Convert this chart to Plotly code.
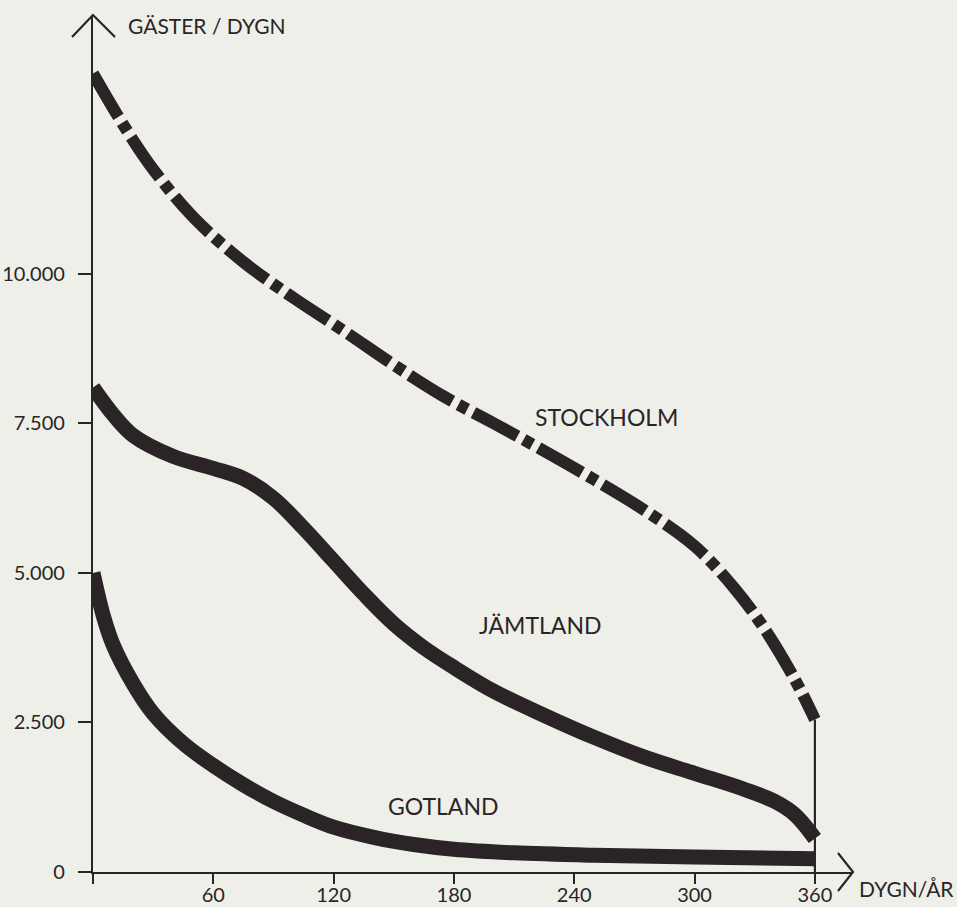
import plotly.graph_objects as go

# ---- data ----
STOCKHOLM_DAYS = [0, 15, 30, 50, 75, 100, 125, 150, 175, 200, 225, 250, 275, 300, 320, 335, 350, 360]
STOCKHOLM_GUESTS = [13350, 12500, 11750, 10950, 10200, 9600, 9050, 8480, 7950, 7500, 7040, 6560, 6050, 5450, 4740, 4060, 3220, 2550]

JAMTLAND_DAYS = [0, 10, 20, 40, 60, 75, 90, 105, 120, 135, 150, 165, 180, 200, 225, 250, 275, 300, 325, 340, 350, 360]
JAMTLAND_GUESTS = [8100, 7650, 7300, 6950, 6750, 6580, 6250, 5750, 5200, 4650, 4150, 3750, 3420, 3020, 2620, 2250, 1920, 1650, 1380, 1180, 960, 560]

GOTLAND_DAYS = [0, 5, 10, 20, 30, 45, 60, 75, 90, 105, 120, 140, 160, 180, 210, 250, 300, 360]
GOTLAND_GUESTS = [5000, 4300, 3800, 3150, 2650, 2150, 1780, 1460, 1180, 950, 750, 580, 460, 380, 320, 280, 250, 220]

X_TICKS = [0, 60, 120, 180, 240, 300, 360]
X_TICK_TEXT = ["", "60", "120", "180", "240", "300", "360"]
Y_TICKS = [0, 2500, 5000, 7500, 10000]
Y_TICK_TEXT = ["0", "2.500", "5.000", "7.500", "10.000"]

X_RANGE = [0, 379]
Y_RANGE = [0, 14330]

INK = "#2b2427"
PAPER = "#eeefe8"
FONT = "Lato"

W, H = 957, 907
ML, MR, MT, MB = 93, 104, 15, 35
PW, PH = W - ML - MR, H - MT - MB


def px_x(px):
    return (px - ML) / PW


def px_y(py):
    return (H - MB - py) / PH


fig = go.Figure()

fig.add_trace(go.Scatter(
    x=STOCKHOLM_DAYS, y=STOCKHOLM_GUESTS, mode="lines",
    line=dict(color=INK, width=12, shape="spline", smoothing=1.0, dash="50px,7px,10px,7px"),
    name="STOCKHOLM", hoverinfo="skip"))
fig.add_trace(go.Scatter(
    x=JAMTLAND_DAYS, y=JAMTLAND_GUESTS, mode="lines",
    line=dict(color=INK, width=15, shape="spline", smoothing=1.0),
    name="JÄMTLAND", hoverinfo="skip"))
fig.add_trace(go.Scatter(
    x=GOTLAND_DAYS, y=GOTLAND_GUESTS, mode="lines",
    line=dict(color=INK, width=15, shape="spline", smoothing=1.0),
    name="GOTLAND", hoverinfo="skip"))

shapes = [
    # vertical line at day 360 under the Stockholm curve end
    dict(type="line", xref="x", yref="y", x0=STOCKHOLM_DAYS[-1], x1=STOCKHOLM_DAYS[-1],
         y0=0, y1=STOCKHOLM_GUESTS[-1], line=dict(color=INK, width=2.2)),
    # y axis arrow head
    dict(type="path", xref="paper", yref="paper",
         path=f"M {px_x(72)},{px_y(37)} L {px_x(93)},{px_y(15)} L {px_x(115)},{px_y(37)}",
         line=dict(color=INK, width=2.2)),
    # x axis arrow head
    dict(type="path", xref="paper", yref="paper",
         path=f"M {px_x(838)},{px_y(853)} L {px_x(853)},{px_y(872)} L {px_x(838)},{px_y(891)}",
         line=dict(color=INK, width=2.2)),
]

annotations = [
    dict(text="GÄSTER / DYGN", xref="paper", yref="paper", x=px_x(126), y=px_y(25),
         xanchor="left", yanchor="middle", showarrow=False,
         font=dict(family=FONT, size=21, color=INK)),
    dict(text="DYGN/ÅR", xref="paper", yref="paper", x=px_x(857), y=px_y(889),
         xanchor="left", yanchor="middle", showarrow=False,
         font=dict(family=FONT, size=21, color=INK)),
    dict(text="STOCKHOLM", xref="x", yref="y", x=256, y=7610, showarrow=False,
         font=dict(family=FONT, size=23, color=INK)),
    dict(text="JÄMTLAND", xref="x", yref="y", x=223, y=4130, showarrow=False,
         font=dict(family=FONT, size=23, color=INK)),
    dict(text="GOTLAND", xref="x", yref="y", x=175, y=1100, showarrow=False,
         font=dict(family=FONT, size=23, color=INK)),
]

fig.update_layout(
    width=W, height=H,
    margin=dict(l=ML, r=MR, t=MT, b=MB, pad=0, autoexpand=False),
    paper_bgcolor=PAPER, plot_bgcolor=PAPER,
    showlegend=False,
    shapes=shapes, annotations=annotations,
    font=dict(family=FONT, color=INK),
)
fig.update_xaxes(
    range=X_RANGE, tickvals=X_TICKS, ticktext=X_TICK_TEXT,
    showgrid=False, zeroline=False, showline=True, linecolor=INK, linewidth=2.2,
    ticks="outside", ticklen=10, tickwidth=2.2, tickcolor=INK, ticklabelstandoff=-6,
    tickfont=dict(family=FONT, size=20, color=INK), automargin=False, fixedrange=True)
fig.update_yaxes(
    range=Y_RANGE, tickvals=Y_TICKS, ticktext=Y_TICK_TEXT,
    showgrid=False, zeroline=False, showline=True, linecolor=INK, linewidth=2.2,
    ticks="outside", ticklen=13, tickwidth=2.2, tickcolor=INK, ticklabelstandoff=9,
    tickfont=dict(family=FONT, size=20, color=INK), automargin=False, fixedrange=True)

fig.write_html(
    "out.html",
    config=dict(displayModeBar=False),
    post_script="document.body.style.margin='0';document.body.style.overflow='hidden';"
                "document.documentElement.style.background='" + PAPER + "';",
)
